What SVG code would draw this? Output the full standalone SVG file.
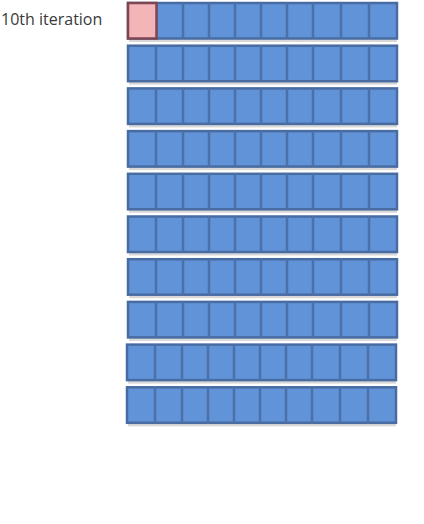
<svg xmlns="http://www.w3.org/2000/svg" width="424" height="524" viewBox="0 0 424 524">
<defs>
<style>
.lbl{font-family:"Open Sans","Liberation Sans",sans-serif;font-size:16px;fill:#3a3a3a}
.row{fill:#6193d8;stroke:#486ca2;stroke-width:2.5}
.div{stroke:#4c71a8;stroke-width:2.5}
.sh{fill:#d8d8d8}
.hot{fill:#f4b5b8;stroke:#7e4552;stroke-width:2.5}
</style>
</defs>
<rect width="424" height="524" fill="#fff"/>
<g id="label"><text class="lbl" x="1" y="25">10th iteration</text></g>
<g id="grid">
<g id="row1" transform="translate(0,3)">
<rect class="sh" x="129" y="36" width="268" height="3"/>
<rect class="row" x="128" y="0" width="269" height="35.5"/>
<path class="div" d="M156 0V35.5M183 0V35.5M209 0V35.5M235 0V35.5M261 0V35.5M287 0V35.5M313 0V35.5M341 0V35.5M369 0V35.5"/>
<rect class="hot" x="128" y="0" width="28.5" height="35.5"/>
</g>
<g id="row2" transform="translate(0,45.7)">
<rect class="sh" x="129" y="36" width="268" height="3"/>
<rect class="row" x="128" y="0" width="269" height="35.5"/>
<path class="div" d="M156 0V35.5M183 0V35.5M209 0V35.5M235 0V35.5M261 0V35.5M287 0V35.5M313 0V35.5M341 0V35.5M369 0V35.5"/>
</g>
<g id="row3" transform="translate(0,88.4)">
<rect class="sh" x="129" y="36" width="268" height="3"/>
<rect class="row" x="128" y="0" width="269" height="35.5"/>
<path class="div" d="M156 0V35.5M183 0V35.5M209 0V35.5M235 0V35.5M261 0V35.5M287 0V35.5M313 0V35.5M341 0V35.5M369 0V35.5"/>
</g>
<g id="row4" transform="translate(0,131.1)">
<rect class="sh" x="129" y="36" width="268" height="3"/>
<rect class="row" x="128" y="0" width="269" height="35.5"/>
<path class="div" d="M156 0V35.5M183 0V35.5M209 0V35.5M235 0V35.5M261 0V35.5M287 0V35.5M313 0V35.5M341 0V35.5M369 0V35.5"/>
</g>
<g id="row5" transform="translate(0,173.8)">
<rect class="sh" x="129" y="36" width="268" height="3"/>
<rect class="row" x="128" y="0" width="269" height="35.5"/>
<path class="div" d="M156 0V35.5M183 0V35.5M209 0V35.5M235 0V35.5M261 0V35.5M287 0V35.5M313 0V35.5M341 0V35.5M369 0V35.5"/>
</g>
<g id="row6" transform="translate(0,216.5)">
<rect class="sh" x="129" y="36" width="268" height="3"/>
<rect class="row" x="128" y="0" width="269" height="35.5"/>
<path class="div" d="M156 0V35.5M183 0V35.5M209 0V35.5M235 0V35.5M261 0V35.5M287 0V35.5M313 0V35.5M341 0V35.5M369 0V35.5"/>
</g>
<g id="row7" transform="translate(0,259.2)">
<rect class="sh" x="129" y="36" width="268" height="3"/>
<rect class="row" x="128" y="0" width="269" height="35.5"/>
<path class="div" d="M156 0V35.5M183 0V35.5M209 0V35.5M235 0V35.5M261 0V35.5M287 0V35.5M313 0V35.5M341 0V35.5M369 0V35.5"/>
</g>
<g id="row8" transform="translate(0,301.9)">
<rect class="sh" x="129" y="36" width="268" height="3"/>
<rect class="row" x="128" y="0" width="269" height="35.5"/>
<path class="div" d="M156 0V35.5M183 0V35.5M209 0V35.5M235 0V35.5M261 0V35.5M287 0V35.5M313 0V35.5M341 0V35.5M369 0V35.5"/>
</g>
<g id="row9" transform="translate(0,344.6)">
<rect class="sh" x="128" y="36" width="268" height="3"/>
<rect class="row" x="127" y="0" width="269" height="35.5"/>
<path class="div" d="M155 0V35.5M182 0V35.5M208 0V35.5M234 0V35.5M260 0V35.5M286 0V35.5M312 0V35.5M340 0V35.5M368 0V35.5"/>
</g>
<g id="row10" transform="translate(0,387.3)">
<rect class="sh" x="128" y="36" width="268" height="3"/>
<rect class="row" x="127" y="0" width="269" height="35.5"/>
<path class="div" d="M155 0V35.5M182 0V35.5M208 0V35.5M234 0V35.5M260 0V35.5M286 0V35.5M312 0V35.5M340 0V35.5M368 0V35.5"/>
</g>
</g>
<g id="connectors"/>
</svg>
